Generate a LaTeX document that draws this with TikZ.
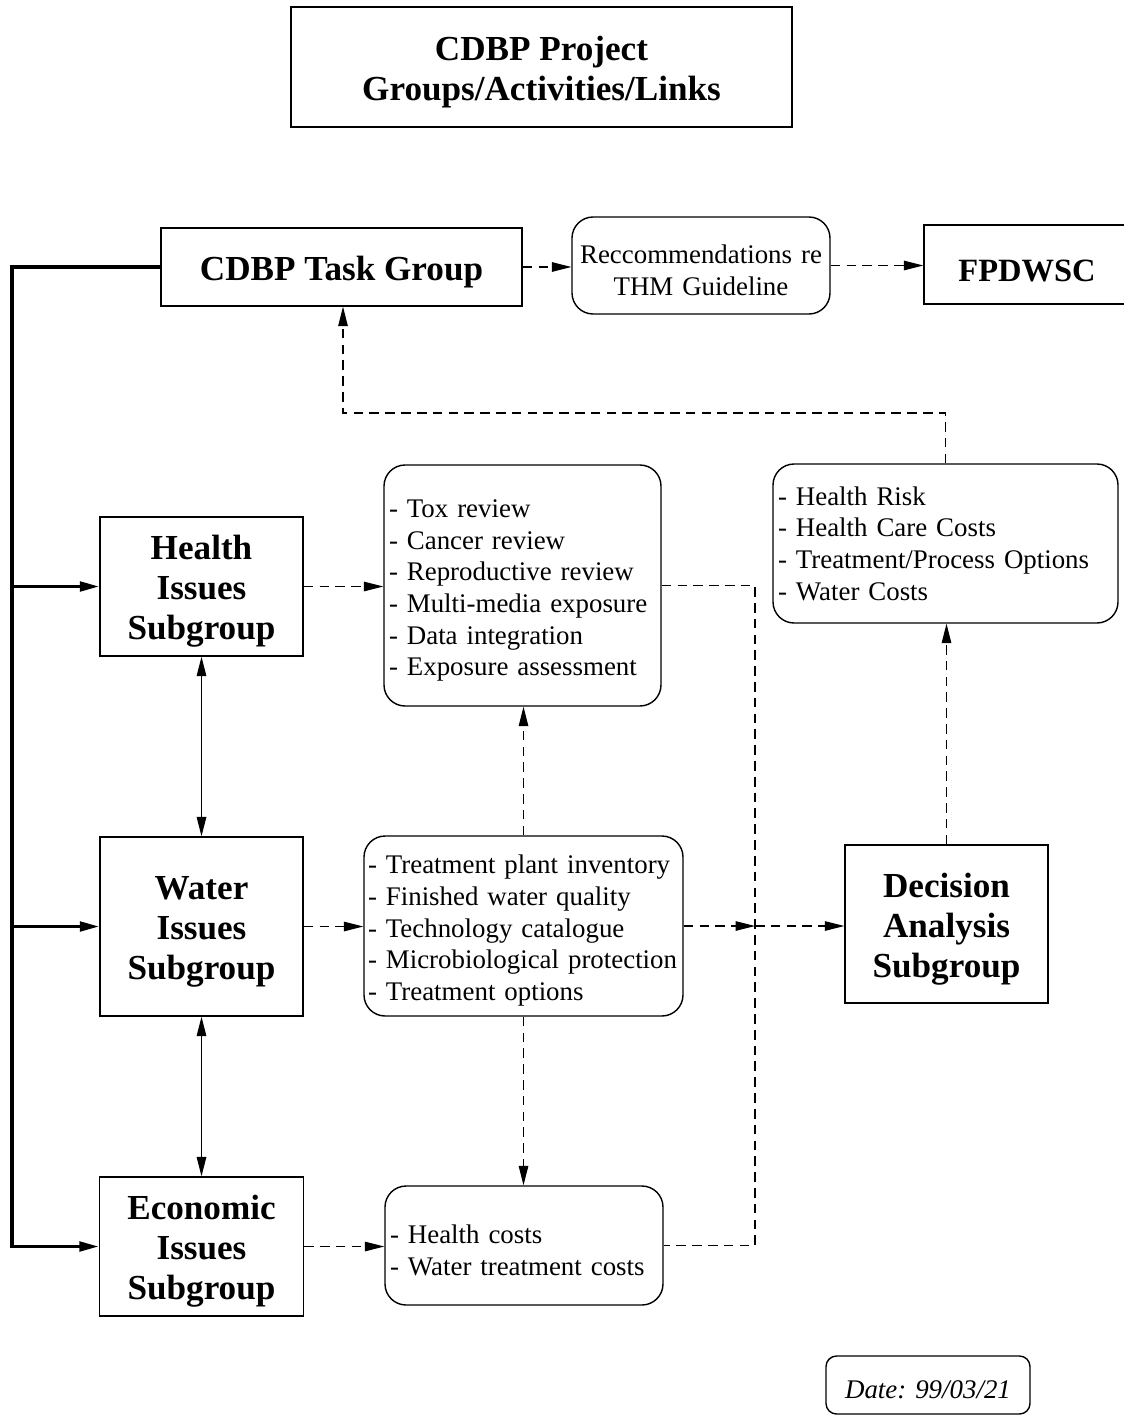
\documentclass[tikz,border=0pt]{standalone}
\usepackage{fontspec}
\setmainfont{Liberation Serif}
\usetikzlibrary{arrows.meta}

\newcommand{\px}{0.02cm}
\newcommand{\grpfont}{\bfseries\fontsize{20}{22.7}\selectfont}
\newcommand{\listfont}{\fontsize{15.3}{18}\selectfont}
% taller first line, to set the text a little lower in its box
\newcommand{\lowgrp}{\rule{0pt}{19.5pt}}
\newcommand{\lowlist}{\rule{0pt}{16pt}}

\tikzset{
  grpbox/.style={draw, line width=0.8pt, align=center, inner sep=0pt, font=\grpfont},
  listbox/.style={draw, line width=0.8pt, rounded corners=12pt, align=left,
    inner xsep=5*\px, inner ysep=0pt, font=\listfont},
  dashlink/.style={->, line width=0.6pt, dash pattern=on 5.5pt off 3.5pt},
  buslink/.style={line width=1.9pt},
  twoway/.style={<->, line width=0.8pt}
}

\begin{document}
\begin{tikzpicture}[x=\px, y=-\px, >={Triangle[length=11pt,width=5.4pt]}]
    \useasboundingbox (0,0) rectangle (1124,1416);
    \clip (0,0) rectangle (1124,1416);

    % title
    \node[grpbox, minimum width=501*\px, minimum height=120*\px] (title) at (541.5,67)
        {\lowgrp CDBP Project\\Groups/Activities/Links};

    % top row
    \node[grpbox, minimum width=361*\px, minimum height=78*\px] (task) at (341.5,267) {\lowgrp CDBP Task Group};
    \node[listbox, align=center, text width=248*\px, minimum height=97*\px] (recc) at (701,265.5)
        {\lowlist Reccommendations re\\THM Guideline};
    \node[grpbox, font=\bfseries\fontsize{18.5}{21}\selectfont, minimum width=206*\px, minimum height=79*\px]
        (fpdwsc) at (1027,264.5) {\lowgrp FPDWSC};

    % subgroups
    \node[grpbox, minimum width=203*\px, minimum height=139*\px] (health) at (201.5,586.5)
        {\lowgrp Health\\Issues\\Subgroup};
    \node[grpbox, minimum width=203*\px, minimum height=179*\px] (water) at (201.5,926.5)
        {\lowgrp Water\\Issues\\Subgroup};
    \node[grpbox, minimum width=204*\px, minimum height=139*\px] (econ) at (201.5,1246.5)
        {\lowgrp Economic\\Issues\\Subgroup};
    \node[grpbox, minimum width=203*\px, minimum height=158*\px] (decision) at (946.5,924)
        {\lowgrp Decision\\Analysis\\Subgroup};

    % activities
    \node[listbox, text width=267*\px, minimum height=241*\px] (hact) at (522.5,585.5)
        {\lowlist - Tox review\\- Cancer review\\- Reproductive review\\- Multi-media exposure\\- Data integration\\- Exposure assessment};
    \node[listbox, inner xsep=4*\px, text width=311*\px, minimum height=180*\px] (wact) at (523.5,926)
        {\lowlist - Treatment plant inventory\\- Finished water quality\\- Technology catalogue\\- Microbiological protection\\- Treatment options};
    \node[listbox, text width=268*\px, minimum height=119*\px] (eact) at (524,1245.5)
        {\lowlist - Health costs\\- Water treatment costs};
    \node[listbox, text width=335*\px, minimum height=159*\px] (hrisk) at (945.5,543.5)
        {- Health Risk\\- Health Care Costs\\- Treatment/Process Options\\- Water Costs};

    % date
    \node[draw, line width=0.8pt, rounded corners=6pt, minimum width=204*\px, minimum height=58*\px,
        font=\itshape\listfont] (date) at (928,1385) {\lowlist Date: 99/03/21};

    % junctions
    \coordinate (jn) at (755,926);
    \coordinate (fb) at (343,413);
    \coordinate (bustop) at (12,267);
    \coordinate (busbot) at (12,1246.5);

    % control bus
    \draw[buslink, ->] (task.west) -- (bustop) -- (busbot) -- (econ.west);
    \draw[buslink, ->] (bustop |- health.west) -- (health.west);
    \draw[buslink, ->] (bustop |- water.west) -- (water.west);

    % subgroup links
    \draw[twoway] (health) -- (water);
    \draw[twoway] (water) -- (econ);

    % activity links
    \draw[dashlink] (health.east) -- (health.east -| hact.west);
    \draw[dashlink] (water.east) -- (water.east -| wact.west);
    \draw[dashlink] (econ.east) -- (econ.east -| eact.west);
    \draw[dashlink] (wact.north) -- (wact.north |- hact.south);
    \draw[dashlink] (wact.south) -- (wact.south |- eact.north);
    \draw[dashlink, -] (hact.east) -| (jn) |- (eact.east);
    \draw[dashlink] (wact.east) -- (jn);
    \draw[dashlink] (jn) -- (jn -| decision.west);

    % decision and feedback
    \draw[dashlink] (decision.north) -- (decision.north |- hrisk.south);
    \draw[dashlink] (hrisk.north) |- (fb) -- (fb |- task.south);
    \draw[dashlink] (task.east) -- (task.east -| recc.west);
    \draw[dashlink] (recc.east) -- (recc.east -| fpdwsc.west);
\end{tikzpicture}
\end{document}
